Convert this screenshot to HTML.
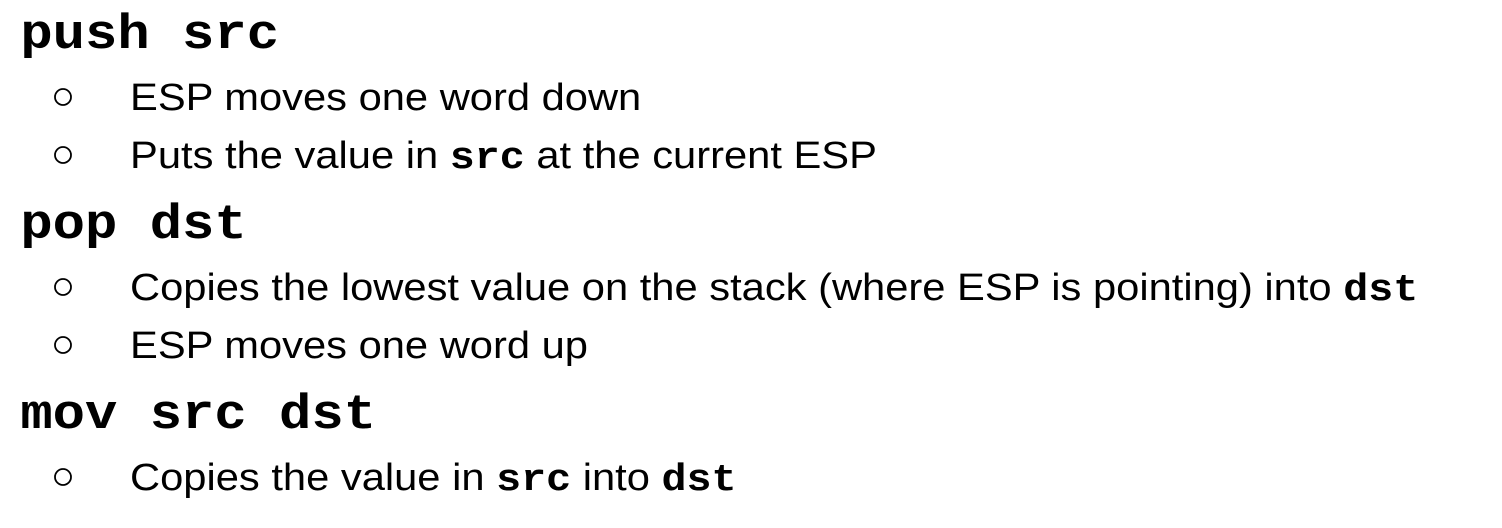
<!DOCTYPE html>
<html><head><style>
html,body{margin:0;padding:0;background:#fff;width:1502px;height:528px;overflow:hidden}
svg text{fill:#000}
.h{font-family:"Liberation Mono",monospace;font-weight:bold;font-size:49px}
.b{font-family:"Liberation Sans",sans-serif;font-size:37.9px}
.m{font-family:"Liberation Mono",monospace;font-weight:bold}
</style></head><body>
<svg width="1502" height="528" xmlns="http://www.w3.org/2000/svg">
<g transform="scale(1.1,1)">
<text class="h" x="18.5" y="48">push src</text>
<text class="b" x="118.2" y="110">ESP moves one word down</text>
<text class="b" x="118.2" y="168">Puts the value in <tspan class="m">src</tspan> at the current ESP</text>
<text class="h" x="18.5" y="238">pop dst</text>
<text class="b" x="118.2" y="300">Copies the lowest value on the stack (where ESP is pointing) into <tspan class="m">dst</tspan></text>
<text class="b" x="118.2" y="358">ESP moves one word up</text>
<text class="h" x="18.5" y="428">mov src dst</text>
<text class="b" x="118.2" y="490">Copies the value in <tspan class="m">src</tspan> into <tspan class="m">dst</tspan></text>
</g>
<g fill="none" stroke="#000" stroke-width="1.8">
<circle cx="63" cy="97" r="8"/>
<circle cx="63" cy="155" r="8"/>
<circle cx="63" cy="287" r="8"/>
<circle cx="63" cy="345" r="8"/>
<circle cx="63" cy="477" r="8"/>
</g>
</svg>
</body></html>
